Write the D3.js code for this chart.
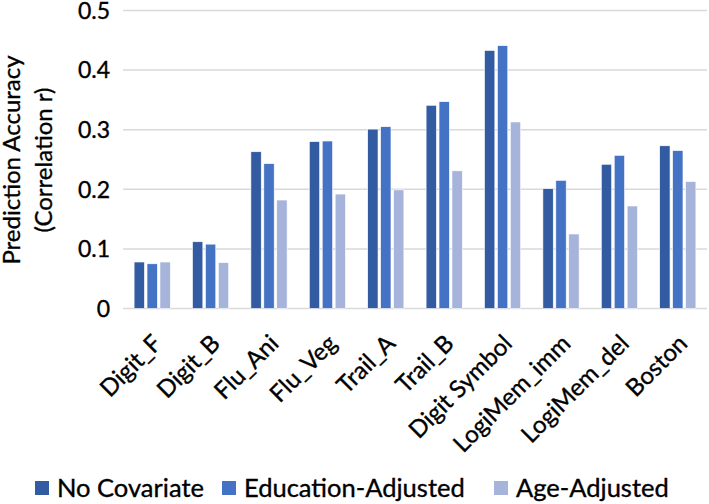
<!DOCTYPE html>
<html><head><meta charset="utf-8">
<script src="https://cdn.jsdelivr.net/npm/d3@7"></script>
<style>body{margin:0;background:#fff;} svg{display:block;} text{stroke:#000;stroke-width:0.35px;}</style>
</head><body>
<svg id="c" width="709" height="504"></svg>
<script>
const categories = ["Digit_F","Digit_B","Flu_Ani","Flu_Veg","Trail_A","Trail_B","Digit Symbol","LogiMem_imm","LogiMem_del","Boston"];
const seriesNames = ["No Covariate","Education-Adjusted","Age-Adjusted"];
const noCovariate = [0.078,0.112,0.263,0.280,0.301,0.341,0.433,0.201,0.242,0.273];
const educationAdjusted = [0.075,0.108,0.243,0.281,0.305,0.347,0.441,0.215,0.257,0.265];
const ageAdjusted = [0.078,0.077,0.182,0.192,0.199,0.231,0.313,0.125,0.172,0.213];
const yTicks = [0,0.1,0.2,0.3,0.4,0.5];
const colors = ["#335BA1","#4472C4","#A6B4DB"];
const FONT = "Lato, 'Open Sans', sans-serif";

const seriesVals = [noCovariate, educationAdjusted, ageAdjusted];
const svg = d3.select("#c");
const x0 = d3.scaleBand().domain(categories).range([123,707]).paddingInner(0.38).paddingOuter(0.19);
const x1 = d3.scaleBand().domain(seriesNames).range([0,x0.bandwidth()]).paddingInner(0.2);
const y = d3.scaleLinear().domain([0,0.5]).range([308.5,10.5]);

// gridlines
svg.append("g").selectAll("line").data(yTicks).join("line")
  .attr("x1",123).attr("x2",707)
  .attr("y1",d=>y(d)).attr("y2",d=>y(d))
  .attr("stroke","#d9d9d9").attr("stroke-width",1.5);

// y tick labels
svg.append("g").selectAll("text").data(yTicks).join("text")
  .attr("x",110).attr("y",d=>y(d)).attr("dy","0.36em")
  .attr("text-anchor","end").attr("font-family",FONT).attr("font-size",23)
  .attr("fill","#000").text(d=>d===0?"0":d3.format(".1f")(d));

// bars
const g = svg.append("g");
categories.forEach((c,i)=>{
  seriesNames.forEach((s,j)=>{
    g.append("rect")
      .attr("x",x0(c)+x1(s)).attr("width",x1.bandwidth())
      .attr("y",y(seriesVals[j][i])).attr("height",y(0)-y(seriesVals[j][i]))
      .attr("fill",colors[j]).attr("stroke","#fff").attr("stroke-width",0.6);
  });
});

// x labels
svg.append("g").selectAll("text").data(categories).join("text")
  .attr("transform",d=>`translate(${x0(d)+x0.bandwidth()/2+11},345) rotate(-45)`)
  .attr("text-anchor","end").attr("font-family",FONT).attr("font-size",24)
  .attr("fill","#000").text(d=>d);

// y axis title
const yt = svg.append("text").attr("transform","translate(0,160) rotate(-90)")
  .attr("text-anchor","middle").attr("font-family",FONT).attr("font-size",24).attr("fill","#000");
yt.append("tspan").attr("x",0).attr("y",20).text("Prediction Accuracy");
yt.append("tspan").attr("x",0).attr("y",52).text("(Correlation r)");

// legend
const legX = [35,222,494];
const lg = svg.append("g");
seriesNames.forEach((s,j)=>{
  lg.append("rect").attr("x",legX[j]).attr("y",481).attr("width",14).attr("height",14).attr("fill",colors[j]).attr("stroke","none");
  lg.append("text").attr("x",legX[j]+22).attr("y",488).attr("dy","0.36em")
    .attr("font-family",FONT).attr("font-size",25.5).attr("fill","#000").text(s);
});
</script>
</body></html>
